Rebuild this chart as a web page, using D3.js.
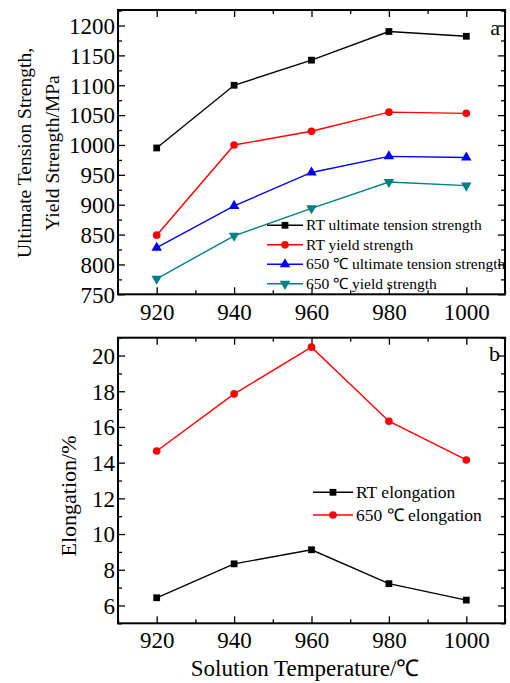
<!DOCTYPE html>
<html><head><meta charset="utf-8">
<script src="https://cdn.jsdelivr.net/npm/d3@7"></script>
<style>
html,body{margin:0;padding:0;background:#fff;}
svg{display:block;}
text{font-family:"Liberation Serif","Times New Roman",serif;fill:#000;}
</style></head>
<body>
<svg id="chart" width="510" height="683"></svg>
<script>
// ---------- data ----------
const temps = [920, 940, 960, 980, 1000];
const rtUTS = [995, 1100, 1142, 1190, 1182];
const rtYS = [849, 1000, 1023, 1055, 1053];
const hotUTS = [828, 898, 954, 981, 979];
const hotYS = [776, 848, 894, 938, 932];
const rtElong = [6.43, 8.33, 9.12, 7.22, 6.30];
const hotElong = [14.65, 17.85, 20.47, 16.32, 14.15];
const xTicks = [920, 940, 960, 980, 1000];
const yTicksTop = [750, 800, 850, 900, 950, 1000, 1050, 1100, 1150, 1200];
const yTicksBottom = [6, 8, 10, 12, 14, 16, 18, 20];
const topSeries = [
  {name: "RT ultimate tension strength", values: rtUTS, color: "#000000", shape: "square"},
  {name: "RT yield strength", values: rtYS, color: "#ff0000", shape: "circle"},
  {name: "650 \u2103 ultimate tension strength", values: hotUTS, color: "#0000ff", shape: "triUp"},
  {name: "650 \u2103 yield strength", values: hotYS, color: "#008080", shape: "triDown"}
];
const bottomSeries = [
  {name: "RT elongation", values: rtElong, color: "#000000", shape: "square"},
  {name: "650 \u2103 elongation", values: hotElong, color: "#ff0000", shape: "circle"}
];

// ---------- layout ----------
const svg = d3.select("#chart");
const L = 118, R = 505;
const x = d3.scaleLinear().domain([910, 1010]).range([L, R]);
const yTop = d3.scaleLinear().domain([750, 1226]).range([294.3, 10]);
const yBot = d3.scaleLinear().domain([5, 21]).range([623.3, 337.7]);

function symbolPath(shape) {
  const map = {
    square: d3.symbol(d3.symbolSquare, 46),
    circle: d3.symbol(d3.symbolCircle, 46),
    triUp: d3.symbol(d3.symbolTriangle, 48),
    triDown: d3.symbol(d3.symbolTriangle, 48)
  };
  return map[shape]();
}
function drawMarker(g, shape, color, cx, cy) {
  g.append("path").attr("d", symbolPath(shape))
    .attr("transform", `translate(${cx},${cy})` + (shape === "triDown" ? " rotate(180)" : ""))
    .attr("fill", color);
}

function panel(yScale, yTicks, minorStep, series, tickFs, xLabelBaseline) {
  const g = svg.append("g");
  const [y0, y1] = yScale.range();
  const xMinor = d3.range(910, 1010.1, 10).filter(v => !xTicks.includes(v));
  const yd = yScale.domain();
  const yMinor = d3.range(Math.ceil(yd[0] / minorStep) * minorStep, yd[1] + 1e-9, minorStep).filter(v => !yTicks.includes(v));
  const axB = d3.axisBottom(x).tickValues(xTicks).tickSizeInner(-7).tickSizeOuter(0).tickFormat(d3.format("d"));
  const axT = d3.axisTop(x).tickValues(xTicks).tickSizeInner(-7).tickSizeOuter(0).tickFormat("");
  const axL = d3.axisLeft(yScale).tickValues(yTicks).tickSizeInner(-7).tickSizeOuter(0).tickFormat(d3.format("d"));
  const axR = d3.axisRight(yScale).tickValues(yTicks).tickSizeInner(-7).tickSizeOuter(0).tickFormat("");
  const axBm = d3.axisBottom(x).tickValues(xMinor).tickSizeInner(-4).tickSizeOuter(0).tickFormat("");
  const axTm = d3.axisTop(x).tickValues(xMinor).tickSizeInner(-4).tickSizeOuter(0).tickFormat("");
  const axLm = d3.axisLeft(yScale).tickValues(yMinor).tickSizeInner(-4).tickSizeOuter(0).tickFormat("");
  const axRm = d3.axisRight(yScale).tickValues(yMinor).tickSizeInner(-4).tickSizeOuter(0).tickFormat("");
  const style = sel => {
    sel.attr("font-family", null).attr("font-size", null);
    sel.select(".domain").remove();
    sel.selectAll(".tick line").attr("stroke", "#000").attr("stroke-width", 1.3);
    sel.selectAll(".tick text").attr("font-size", tickFs).attr("fill", "#000");
  };
  g.append("g").attr("transform", `translate(0,${y0})`).call(axB).call(style)
    .selectAll(".tick text").attr("dy", null).attr("y", xLabelBaseline - y0);
  g.append("g").attr("transform", `translate(0,${y1})`).call(axT).call(style);
  g.append("g").attr("transform", `translate(${L},0)`).call(axL).call(style)
    .selectAll(".tick text").attr("x", -3).attr("dy", "0.34em");
  g.append("g").attr("transform", `translate(${R},0)`).call(axR).call(style);
  g.append("g").attr("transform", `translate(0,${y0})`).call(axBm).call(style);
  g.append("g").attr("transform", `translate(0,${y1})`).call(axTm).call(style);
  g.append("g").attr("transform", `translate(${L},0)`).call(axLm).call(style);
  g.append("g").attr("transform", `translate(${R},0)`).call(axRm).call(style);
  g.append("rect").attr("x", L).attr("y", y1).attr("width", R - L).attr("height", y0 - y1)
    .attr("fill", "none").attr("stroke", "#000").attr("stroke-width", 2);
  const line = d3.line().x((d, i) => x(temps[i])).y(d => yScale(d));
  series.forEach(s => {
    g.append("path").datum(s.values).attr("d", line).attr("fill", "none")
      .attr("stroke", s.color).attr("stroke-width", 1.4);
    s.values.forEach((v, i) => drawMarker(g, s.shape, s.color, x(temps[i]), yScale(v)));
  });
  return g;
}

panel(yTop, yTicksTop, 25, topSeries, 23, 320);
panel(yBot, yTicksBottom, 1, bottomSeries, 23, 648);

function legend(series, x0, x1, xt, yStart, dy, fs) {
  const g = svg.append("g");
  series.forEach((s, i) => {
    const yy = yStart + i * dy;
    g.append("line").attr("x1", x0).attr("x2", x1).attr("y1", yy).attr("y2", yy)
      .attr("stroke", s.color).attr("stroke-width", 1.4);
    drawMarker(g, s.shape, s.color, (x0 + x1) / 2, yy);
    g.append("text").attr("x", xt).attr("y", yy).attr("dy", "0.33em")
      .attr("font-size", fs).text(s.name);
  });
}
legend(topSeries, 267, 303, 306, 225.3, 19.5, 15.5);
legend(bottomSeries, 313, 353, 356, 492.3, 22.7, 17.5);

svg.append("text").attr("x", 500).attr("y", 35).attr("text-anchor", "end").attr("font-size", 22).text("a");
svg.append("text").attr("x", 500).attr("y", 361).attr("text-anchor", "end").attr("font-size", 22).text("b");

svg.append("text").attr("transform", "translate(31,153) rotate(-90)").attr("text-anchor", "middle")
  .attr("font-size", 19.5).text("Ultimate Tension Strength,");
svg.append("text").attr("transform", "translate(59,153) rotate(-90)").attr("text-anchor", "middle")
  .attr("font-size", 19.5).text("Yield Strength/MPa");
svg.append("text").attr("transform", "translate(76,496) rotate(-90)").attr("text-anchor", "middle")
  .attr("font-size", 22).text("Elongation/%");
svg.append("text").attr("x", 305).attr("y", 676).attr("text-anchor", "middle")
  .attr("font-size", 23).text("Solution Temperature/\u2103");
</script>
</body></html>
